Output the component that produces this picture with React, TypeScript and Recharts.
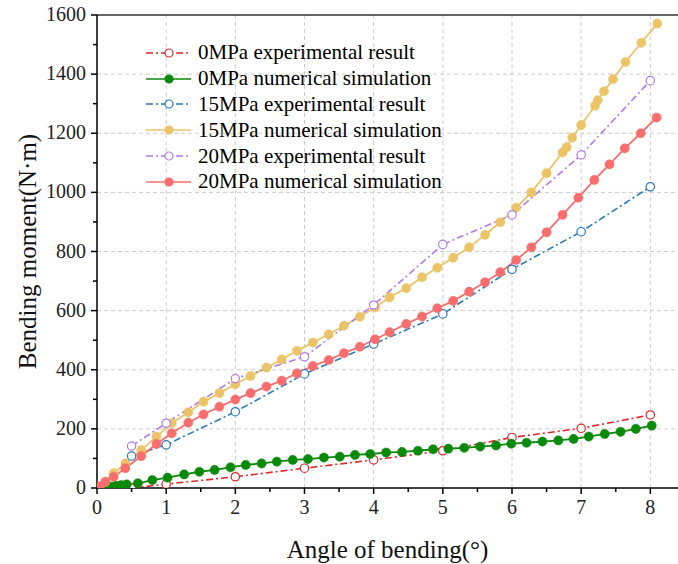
import React from "react";
import { LineChart, Line, XAxis, YAxis, CartesianGrid, ReferenceLine, Legend } from "recharts";

// values
const exp0X = [0.5, 1, 2, 3, 4, 5, 6, 7, 8];
const exp0Y = [0, 13, 38, 67, 95, 126, 171, 202, 247];

const num0X = [0.1, 0.19, 0.27, 0.35, 0.43, 0.59, 0.8, 1.02, 1.26, 1.48, 1.7, 1.93, 2.15, 2.38, 2.6, 2.83, 3.05, 3.28, 3.51, 3.73, 3.95, 4.18, 4.41, 4.64, 4.86, 5.08, 5.31, 5.54, 5.77, 5.99, 6.21, 6.44, 6.67, 6.89, 7.11, 7.34, 7.57, 7.79, 8.02];
const num0Y = [2, 5, 8, 10, 12, 16, 27, 35, 46, 55, 61, 70, 78, 83, 89, 95, 98, 103, 106, 112, 115, 120, 122, 126, 131, 133, 136, 140, 144, 150, 153, 157, 161, 166, 174, 183, 190, 200, 211];

const exp15X = [0.5, 1, 2, 3, 4, 5, 6, 7, 8];
const exp15Y = [108, 146, 258, 386, 487, 589, 740, 867, 1019];

const num15X = [0.12, 0.24, 0.41, 0.64, 0.86, 1.08, 1.32, 1.54, 1.77, 2.0, 2.22, 2.45, 2.67, 2.89, 3.12, 3.35, 3.57, 3.8, 4.02, 4.23, 4.47, 4.7, 4.92, 5.15, 5.38, 5.61, 5.83, 6.06, 6.28, 6.5, 6.73, 6.79, 6.87, 7.0, 7.2, 7.24, 7.33, 7.46, 7.64, 7.87, 8.1];
const num15Y = [21, 50, 83, 128, 174, 219, 256, 292, 321, 351, 379, 407, 435, 464, 492, 520, 549, 579, 611, 645, 676, 713, 745, 779, 814, 856, 899, 948, 1000, 1065, 1135, 1153, 1185, 1228, 1293, 1312, 1342, 1383, 1441, 1506, 1571];

const exp20X = [0.5, 1, 2, 3, 4, 5, 6, 7, 8];
const exp20Y = [142, 219, 370, 444, 619, 824, 924, 1127, 1378];

const num20X = [0.04, 0.12, 0.24, 0.41, 0.64, 0.86, 1.08, 1.32, 1.54, 1.77, 2.0, 2.22, 2.45, 2.67, 2.89, 3.12, 3.35, 3.57, 3.8, 4.02, 4.23, 4.47, 4.7, 4.92, 5.15, 5.38, 5.61, 5.83, 6.06, 6.28, 6.5, 6.73, 6.96, 7.19, 7.41, 7.63, 7.86, 8.09];
const num20Y = [6, 21, 38, 67, 108, 149, 185, 221, 249, 275, 299, 321, 343, 363, 388, 413, 433, 456, 478, 503, 527, 555, 580, 608, 633, 664, 696, 730, 771, 814, 865, 924, 982, 1042, 1095, 1149, 1200, 1253];

const xTicks = [0, 0.5, 1, 1.5, 2, 2.5, 3, 3.5, 4, 4.5, 5, 5.5, 6, 6.5, 7, 7.5, 8];
const yTicks = [0, 100, 200, 300, 400, 500, 600, 700, 800, 900, 1000, 1100, 1200, 1300, 1400, 1500, 1600];
const xGrid = [1, 2, 3, 4, 5, 6, 7, 8];
const yGrid = [200, 400, 600, 800, 1000, 1200, 1400];

const FONT = "'Liberation Serif', 'Times New Roman', serif";
const DASHDOT = "7 3 2 3";

const toPoints = (xs: number[], ys: number[]) => xs.map((x, i) => ({ x, y: ys[i] }));

const SERIES = [
  { name: "0MPa experimental result", data: toPoints(exp0X, exp0Y), color: "#e0262b", open: true },
  { name: "0MPa numerical simulation", data: toPoints(num0X, num0Y), color: "#0a8a0a", open: false },
  { name: "15MPa experimental result", data: toPoints(exp15X, exp15Y), color: "#2a78b8", open: true },
  { name: "15MPa numerical simulation", data: toPoints(num15X, num15Y), color: "#ecc468", open: false },
  { name: "20MPa experimental result", data: toPoints(exp20X, exp20Y), color: "#b07ce8", open: true },
  { name: "20MPa numerical simulation", data: toPoints(num20X, num20Y), color: "#f86e6e", open: false },
];

const isMajor = (v: number, step: number) => Math.abs(v / step - Math.round(v / step)) < 1e-6;

function XTick(props: any) {
  const { x, y, payload } = props;
  const major = isMajor(payload.value, 1);
  return (
    <g>
      <line x1={x} x2={x} y1={y} y2={y + (major ? 6 : 4)} stroke="#000" strokeWidth={1.5} />
      {major && (
        <text x={x} y={y + 26} textAnchor="middle" fontSize={20} fontFamily={FONT} fill="#222">
          {payload.value}
        </text>
      )}
    </g>
  );
}

function YTick(props: any) {
  const { x, y, payload } = props;
  const major = isMajor(payload.value, 200);
  return (
    <g>
      <line x1={x} x2={x - (major ? 6 : 4)} y1={y} y2={y} stroke="#000" strokeWidth={1.5} />
      {major && (
        <text x={x - 11} y={y + 6} textAnchor="end" fontSize={20} fontFamily={FONT} fill="#222">
          {payload.value}
        </text>
      )}
    </g>
  );
}

function LegendBox() {
  return (
    <div style={{ fontFamily: FONT, fontSize: 21, color: "#000", lineHeight: 1 }}>
      {SERIES.map((s) => (
        <div key={s.name} style={{ display: "flex", alignItems: "center", height: 25.8 }}>
          <svg width={50} height={14} style={{ marginRight: 3 }}>
            <line
              x1={1}
              x2={46}
              y1={7}
              y2={7}
              stroke={s.color}
              strokeWidth={1.6}
              strokeDasharray={s.open ? DASHDOT : undefined}
            />
            <circle cx={24} cy={7} r={4} fill={s.open ? "#fff" : s.color} stroke={s.color} strokeWidth={1.2} />
          </svg>
          <span style={{ whiteSpace: "nowrap" }}>{s.name}</span>
        </div>
      ))}
    </div>
  );
}

export default function App() {
  return (
    <div style={{ position: "absolute", left: 0, top: 0, width: 678, height: 564, background: "#fff" }}>
      <LineChart width={678} height={564} margin={{ top: 15, right: 0, bottom: 0, left: 0 }}>
        <CartesianGrid
          stroke="#cccccc"
          strokeDasharray="4 3"
          verticalValues={xGrid}
          horizontalValues={yGrid}
        />
        <XAxis
          type="number"
          dataKey="x"
          domain={[0, 8.4]}
          ticks={xTicks}
          interval={0}
          allowDataOverflow
          height={76}
          tickSize={0}
          tickMargin={0}
          tickLine={false}
          tick={<XTick />}
          axisLine={{ stroke: "#000", strokeWidth: 1.5 }}
          label={{
            value: "Angle of bending(°)",
            position: "insideBottom",
            offset: 6,
            style: { fontFamily: FONT, fontSize: 25, fill: "#111" },
          }}
        />
        <YAxis
          type="number"
          dataKey="y"
          domain={[0, 1600]}
          ticks={yTicks}
          interval={0}
          allowDataOverflow
          width={97}
          tickSize={0}
          tickMargin={0}
          tickLine={false}
          tick={<YTick />}
          axisLine={{ stroke: "#000", strokeWidth: 1.5 }}
          label={{
            value: "Bending moment(N·m)",
            angle: -90,
            position: "insideLeft",
            offset: 27,
            style: { fontFamily: FONT, fontSize: 25, fill: "#111", textAnchor: "middle" },
          }}
        />
        <ReferenceLine y={1600} stroke="#333" strokeWidth={1.5} />
        <Legend
          layout="vertical"
          align="center"
          verticalAlign="middle"
          content={() => <LegendBox />}
          wrapperStyle={{ left: 145, top: 40, width: 340 }}
        />
        {SERIES.map((s) => (
          <Line
            key={s.name}
            data={s.data}
            dataKey="y"
            name={s.name}
            type="linear"
            stroke={s.color}
            strokeWidth={s.open ? 1.6 : 1.8}
            strokeDasharray={s.open ? DASHDOT : undefined}
            dot={
              s.open
                ? { r: 4.2, fill: "#fff", stroke: s.color, strokeWidth: 1.2, strokeDasharray: "" }
                : { r: 4.6, fill: s.color, stroke: s.color, strokeWidth: 0.5 }
            }
            activeDot={false}
            isAnimationActive={false}
          />
        ))}
      </LineChart>
    </div>
  );
}
